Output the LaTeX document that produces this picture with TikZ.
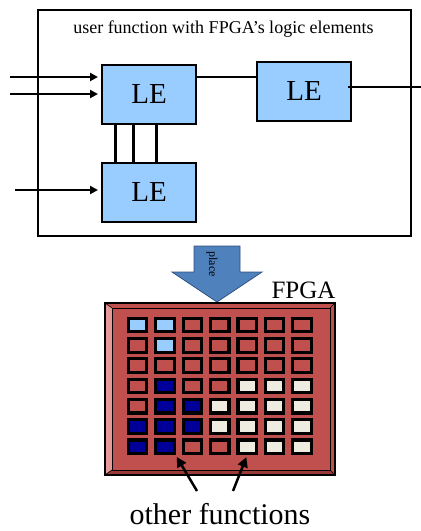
\documentclass[tikz,border=0pt]{standalone}
\usepackage{fontspec}
\setmainfont{Liberation Serif}
\usetikzlibrary{arrows.meta,calc}
\definecolor{leblue}{HTML}{99CCFF}
\definecolor{colL}{HTML}{99CCFF}
\definecolor{colR}{HTML}{C0504D}
\definecolor{colN}{HTML}{000099}
\definecolor{colW}{HTML}{EEECE1}
\definecolor{chipred}{HTML}{C0504D}
\definecolor{chiplight}{HTML}{E39A98}
\definecolor{chipdark}{HTML}{9A3A38}
\definecolor{placeblue}{HTML}{4F81BD}
\definecolor{placeedge}{HTML}{2F4F7F}
\begin{document}
\begin{tikzpicture}[x=1pt,y=-1pt,
  lebox/.style={draw=black, line width=2pt, fill=leblue, minimum width=94pt, minimum height=59pt, inner sep=0pt, font=\fontsize{29}{29}\selectfont},
  wire/.style={line width=2pt},
  bus/.style={line width=3pt},
  inarrow/.style={line width=2pt, -{Triangle[length=8pt,width=8pt]}, shorten >=3pt},
  cell/.style={draw=black, line width=3.2pt, minimum width=18.4pt, minimum height=13.6pt, inner sep=0pt},
  ptr/.style={line width=2.5pt, -{Triangle[length=10pt,width=10pt]}, shorten >=2pt}]
\useasboundingbox (0,0) rectangle (421,531);
% frame
\node[draw=black, line width=2pt, minimum width=373pt, minimum height=226pt, inner sep=0pt] (frame) at (224.5,123) {};
\node[anchor=base, font=\fontsize{18}{18}\selectfont, inner sep=0pt] (title) at (223.5,33) {user function with FPGA’s logic elements};
% logic elements
\node[lebox] (le1) at (149,94.5) {LE};
\node[lebox] (le2) at (304,91.5) {LE};
\node[lebox] (le3) at (149,192.5) {LE};
% inputs
\coordinate (i1) at (10,77);
\coordinate (i2) at (10,94);
\coordinate (i3) at (15,190);
\draw[inarrow] (i1) -- (i1 -| le1.west);
\draw[inarrow] (i2) -- (i2 -| le1.west);
\draw[inarrow] (i3) -- (i3 -| le3.west);
% LE1 to LE2
\draw[wire] (i1 -| le1.east) -- (i1 -| le2.west);
% output
\coordinate (o1) at (421,87);
\draw[wire] (o1 -| le2.east) ++(-4,0) -- (o1);
% buses
\coordinate (v1) at (115,0);
\coordinate (v2) at (133,0);
\coordinate (v3) at (156,0);
\foreach \v in {v1,v2,v3}
  \draw[bus] (le1.south -| \v) -- (le3.north -| \v);
% place arrow
\draw[fill=placeblue, draw=placeedge, line width=0.8pt, line join=miter]
  (194,246) -- (240,246) -- (240,272) -- (262,272) -- (217,302) -- (172,272) -- (194,272) -- cycle;
\node[rotate=-90, font=\fontsize{12}{12}\selectfont, inner sep=0pt] (place) at (212,264) {place};
% FPGA label
\node[anchor=base, font=\fontsize{25}{25}\selectfont, inner sep=0pt] (fpga) at (303.5,298) {FPGA};
% chip
\fill[chipred] (105,303) rectangle (335,475);
\fill[chiplight] (105,303) -- (112,308) -- (112,470) -- (105,475) -- cycle;
\fill[chipdark] (105,475) -- (112,470) -- (330,470) -- (335,475) -- cycle;
\draw[black, line width=1pt] (112,308) rectangle (330,470);
\draw[black, line width=0.6pt] (105,303) -- (112,308) (335,303) -- (330,308) (105,475) -- (112,470) (335,475) -- (330,470);
\draw[black, line width=2.2pt] (105,303) rectangle (335,475);
% cells
\foreach \row [count=\r] in {{L,L,R,R,R,R,R},{R,L,R,R,R,R,R},{R,R,R,R,R,R,R},{R,N,R,R,W,W,W},{R,N,N,W,W,W,W},{N,N,N,W,W,W,W},{N,N,R,R,W,W,W}}{
  \foreach \k [count=\c] in \row {
    \node[cell, fill=col\k] (c\r-\c) at ({137.5+(\c-1)*27.4},{325+(\r-1)*20.3}) {};
  }
}
% pointers
\coordinate (t1) at (197,491);
\coordinate (t2) at (233,491);
\draw[ptr] (t1) -- (c7-2.south east);
\draw[ptr] (t2) -- (c7-5.south);
\node[anchor=base, font=\fontsize{30}{30}\selectfont, inner sep=0pt] (other) at (220,524) {other functions};
\end{tikzpicture}
\end{document}
